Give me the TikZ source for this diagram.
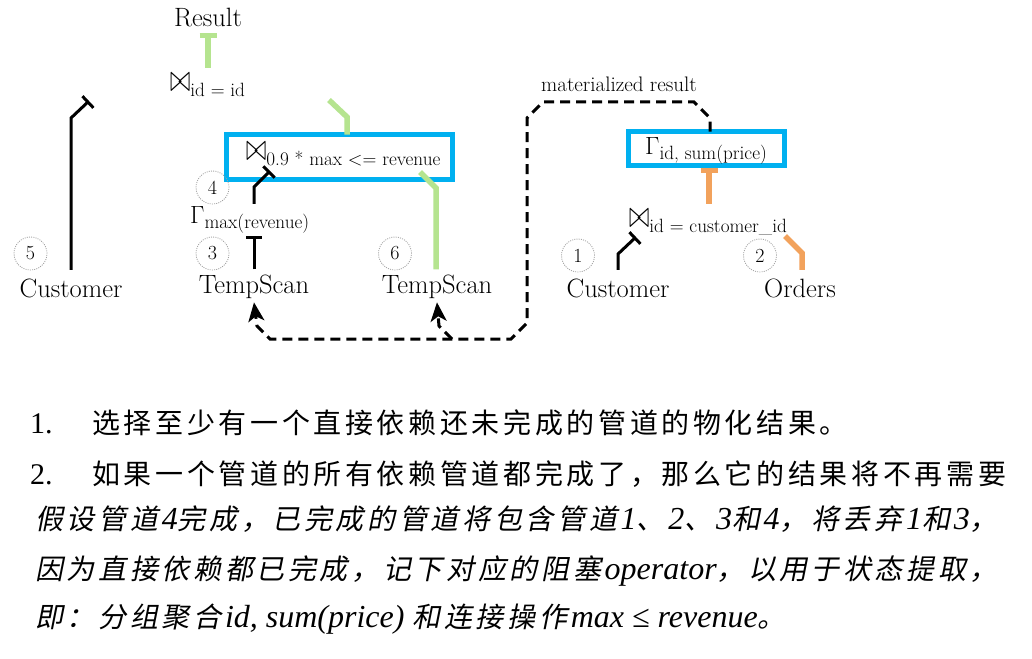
\documentclass[tikz,border=0pt]{standalone}
\usepackage{fontspec}
\usepackage{graphicx}
\usetikzlibrary{arrows.meta,calc}
\newfontfamily\cjk[LetterSpace=13]{Noto Sans CJK SC}
\newfontfamily\cjkit[LetterSpace=13,FakeSlant=0.2]{Noto Sans CJK SC}
\newfontfamily\tnr{Liberation Serif}
\definecolor{pgreen}{RGB}{181,228,143}
\definecolor{porange}{RGB}{242,162,92}
\definecolor{pblue}{RGB}{0,176,240}
\newcommand\bt{\scalebox{1}[1.55]{\fontsize{24}{28}\selectfont$\bowtie$}}
\newcommand\Gm{{\fontsize{26}{28}\selectfont$\Gamma$}}
\newcommand\subt[1]{\raisebox{-5pt}{\fontsize{19.2}{22}\selectfont #1}}
\newcommand\zh[1]{{\cjkit\fontsize{28}{32}\selectfont #1}\kern3.64pt}
\newcommand\en[1]{{\tnr\itshape\fontsize{32}{36}\selectfont #1}}
\begin{document}
\begin{tikzpicture}[x=1pt,y=-1pt,
 lbl/.style={font=\fontsize{26.5}{30}\selectfont, inner sep=0pt, anchor=base},
 op/.style={inner sep=0pt, anchor=base west},
 pnum/.style={circle, draw=gray!75, dash pattern=on 1pt off 1.2pt, line width=0.8pt, minimum size=33pt, inner sep=0pt, font=\fontsize{20}{22}\selectfont},
 bluebox/.style={draw=pblue, line width=4.5pt, inner sep=0pt, outer sep=0pt},
 blk/.style={draw=black, line width=3pt},
 grn/.style={draw=pgreen, line width=5.5pt},
 org/.style={draw=porange, line width=5.5pt},
 dsh/.style={draw=black, line width=3pt, dash pattern=on 10pt off 6pt},
 num/.style={inner sep=0pt, anchor=base west, font=\tnr\fontsize{30}{34}\selectfont},
 zhline/.style={inner sep=0pt, anchor=base west, font=\cjk\fontsize{28}{32}\selectfont},
 itline/.style={inner sep=0pt, anchor=base west},
 btip/.style={-{Bar[width=16pt]}},
 gtip/.style={-{Bar[width=17pt]}},
 atip/.style={-{Stealth[length=19pt,width=16pt,inset=5pt]}}
]
\useasboundingbox (0,0) rectangle (1032,658);

% blue boxes
\node[bluebox, minimum width=226pt, minimum height=45pt] (box1) at (339.5,157) {};
\node[bluebox, minimum width=156pt, minimum height=34pt] (box2) at (706.5,148.5) {};

% labels
\node[lbl] (result) at (208,27) {Result};
\node[op] (j1) at (170,92) {\bt\subt{id = id}};
\node[op] (j2) at (246,160) {\bt\subt{0.9 * max <= revenue}};
\node[op] (gmax) at (190,223) {\Gm\subt{max(revenue)}};
\node[op] (gsum) at (645,154) {\Gm\subt{id, sum(price)}};
\node[op] (j3) at (629,227) {\bt\subt{id = customer\_id}};
\node[lbl] (cust5) at (71,297) {Customer};
\node[lbl] (ts3) at (254,293) {TempScan};
\node[lbl] (ts6) at (437,293) {TempScan};
\node[lbl] (cust1) at (618,297) {Customer};
\node[lbl] (orders) at (800,297) {Orders};
\node[font=\fontsize{21}{24}\selectfont, inner sep=0pt, anchor=base] (mat) at (619,92) {materialized result};

% pipeline numbers
\node[pnum] (n5) at (30.5,253.5) {5};
\node[pnum] (n4) at (212.5,187.5) {4};
\node[pnum] (n3) at (212.5,253.5) {3};
\node[pnum] (n6) at (395,253.5) {6};
\node[pnum] (n1) at (578,255.5) {1};
\node[pnum] (n2) at (760,255.5) {2};

% bend points
\coordinate (a1) at (71,118);  \coordinate (a2) at (89,101);
\coordinate (b1) at (347,117); \coordinate (b2) at (329,100);
\coordinate (c1) at (254,187); \coordinate (c2) at (270,171);
\coordinate (e1) at (436,188); \coordinate (e2) at (420,172);
\coordinate (g1) at (618,254); \coordinate (g2) at (636,237);
\coordinate (h1) at (802,253); \coordinate (h2) at (785,236);
\coordinate (d1) at (710,118); \coordinate (d2) at (694,102);
\coordinate (d3) at (543,102); \coordinate (d4) at (527,118);
\coordinate (d5) at (527,323); \coordinate (d6) at (511,339);
\coordinate (d7) at (270,339); \coordinate (d8) at (257,326);
\coordinate (d9) at (452,339); \coordinate (d10) at (439,326);

% connectors
\draw[blk,btip] ($(cust5.north)+(0,-8.3)$) -- (a1) -- (a2);
\draw[grn] ($(box1.north)+(7.5,0)$) -- (b1) -- (b2);
\draw[grn,gtip] ($(result.south |- j1.north)+(0,-6)$) -- ($(result.south)+(0,5)$);
\draw[blk,btip] ($(ts3.north |- gmax.north)+(0,-2)$) -- (c1) -- (c2);
\draw[blk,btip] ($(ts3.north)+(0,-4.9)$) -- ($(ts3.north |- gmax.south)+(0,3.2)$);
\draw[grn] ($(ts6.north)+(-1,-4.9)$) -- (e1) -- (e2);
\draw[org,gtip] ($(box2.south)+(2.5,38)$) -- ($(box2.south)+(2.5,2)$);
\draw[blk,btip] ($(cust1.north)+(0,-8.3)$) -- (g1) -- (g2);
\draw[org] ($(orders.north)+(2,-8.3)$) -- (h1) -- (h2);
\draw[dsh,atip] ($(box2.north)+(3.5,0)$) -- (d1) -- (d2) -- (d3) -- (d4) -- (d5) -- (d6) -- (d7) -- (d8) -- ($(ts3.south)+(0,4)$);
\draw[dsh,atip] (d9) -- (d10) -- ($(ts6.south)+(0,4)$);

% bottom text
\node[num] (l1n) at (30,433) {1.};
\node[zhline] (l1) at (92,433) {选择至少有一个直接依赖还未完成的管道的物化结果。};
\node[num] (l2n) at (30,484) {2.};
\node[zhline] (l2) at (92,484) {如果一个管道的所有依赖管道都完成了，那么它的结果将不再需要};
\node[itline] (l3) at (35,529) {\zh{假设管道}\en{4}\zh{完成，已完成的管道将包含管道}\en{1}\zh{、}\en{2}\zh{、}\en{3}\zh{和}\en{4}\zh{，将丢弃}\en{1}\zh{和}\en{3}\zh{，}};
\node[itline] (l4) at (35,579) {\zh{因为直接依赖都已完成，记下对应的阻塞}\en{operator}\zh{，以用于状态提取，}};
\node[itline] (l5) at (35,627) {\zh{即：分组聚合}\en{id, sum(price) }\zh{和连接操作}\en{max ≤ revenue}\zh{。}};
\end{tikzpicture}
\end{document}
